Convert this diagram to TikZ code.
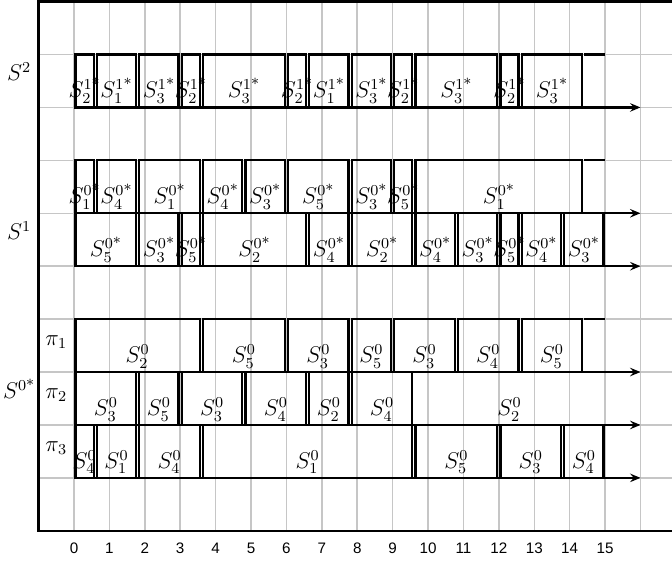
\documentclass[tikz,border=0pt]{standalone}
\usepackage{amsmath}
\usepackage{fontspec}
\setsansfont{Liberation Sans}
\usetikzlibrary{arrows.meta}
\newcommand\st{\text{*}}
\newcommand\ganttrow[3]{%
  \foreach \a/\b/\l [count=\i] in {#3}{%
    \draw[taskbox] (\a+0.045,#2) rectangle (\b-0.045,#2+1);
    \node[lab] (#1-\i) at ({(\a+\b)/2},#2+0.18) {$\l$};
  }}
\begin{document}
\begin{tikzpicture}[x=0.655cm,y=0.979cm,
  gridline/.style={gray!45,line width=0.8pt},
  frame/.style={line width=1.3pt},
  taskbox/.style={line width=1.2pt},
  lab/.style={anchor=base,inner sep=0pt,font=\large},
  timeaxis/.style={line width=1.2pt,-{Stealth[length=5.5pt,width=4.5pt,inset=2pt]}},
  ticklab/.style={font=\sffamily\footnotesize,inner sep=0pt}]
\useasboundingbox (-2.09,-0.586) rectangle (16.89,10.03);
% grid
\foreach \x in {0,...,17} \draw[gridline] (\x,0) -- (\x,10);
\foreach \y in {1,...,9} \draw[gridline] (-1,\y) -- (17,\y);
% frame
\draw[frame] (17,10) -- (-1,10) -- (-1,0) -- (17,0);
% S^2 row
\ganttrow{a}{8}{0/0.6/S_2^{1\st}, 0.6/1.8/S_1^{1\st}, 1.8/3/S_3^{1\st}, 3/3.6/S_2^{1\st}, 3.6/6/S_3^{1\st}, 6/6.6/S_2^{1\st}, 6.6/7.8/S_1^{1\st}, 7.8/9/S_3^{1\st}, 9/9.6/S_2^{1\st}, 9.6/12/S_3^{1\st}, 12/12.6/S_2^{1\st}, 12.6/14.4/S_3^{1\st}}
% S^1 rows
\ganttrow{b}{6}{0/0.6/S_1^{0\st}, 0.6/1.8/S_4^{0\st}, 1.8/3.6/S_1^{0\st}, 3.6/4.8/S_4^{0\st}, 4.8/6/S_3^{0\st}, 6/7.8/S_5^{0\st}, 7.8/9/S_3^{0\st}, 9/9.6/S_5^{0\st}, 9.6/14.4/S_1^{0\st}}
\ganttrow{c}{5}{0/1.8/S_5^{0\st}, 1.8/3/S_3^{0\st}, 3/3.6/S_5^{0\st}, 3.6/6.6/S_2^{0\st}, 6.6/7.8/S_4^{0\st}, 7.8/9.6/S_2^{0\st}, 9.6/10.8/S_4^{0\st}, 10.8/12/S_3^{0\st}, 12/12.6/S_5^{0\st}, 12.6/13.8/S_4^{0\st}, 13.8/15/S_3^{0\st}}
% S^0* rows
\ganttrow{d}{3}{0/3.6/S_2^0, 3.6/6/S_5^0, 6/7.8/S_3^0, 7.8/9/S_5^0, 9/10.8/S_3^0, 10.8/12.6/S_4^0, 12.6/14.4/S_5^0}
\ganttrow{e}{2}{0/1.8/S_3^0, 1.8/3/S_5^0, 3/4.8/S_3^0, 4.8/6.6/S_4^0, 6.6/7.8/S_2^0, 7.8/9.6/S_4^0}
\node[lab] (e-7) at (12.3,2.18) {$S_2^0$};
\ganttrow{f}{1}{0/0.6/S_4^0, 0.6/1.8/S_1^0, 1.8/3.6/S_4^0, 3.6/9.6/S_1^0, 9.6/12/S_5^0, 12/13.8/S_3^0, 13.8/15/S_4^0}
% open top edges up to 15
\foreach \y in {9,7,4} \draw[taskbox] (14.4,\y) -- (15,\y);
% time axes
\foreach \y in {8,6,5,3,2,1} {
  \coordinate (t0-\y) at (0,\y);
  \coordinate (t1-\y) at (16,\y);
  \draw[timeaxis] (t0-\y) -- (t1-\y);
}
% left labels
\node[lab] (s2) at (-1.55,8.5) {$S^2$};
\node[lab] (s1) at (-1.55,5.5) {$S^1$};
\node[lab] (s0) at (-1.55,2.5) {$S^{0\st}$};
\node[lab] (p1) at (-0.5,3.5) {$\pi_1$};
\node[lab] (p2) at (-0.5,2.5) {$\pi_2$};
\node[lab] (p3) at (-0.5,1.5) {$\pi_3$};
% tick labels
\foreach \k in {0,...,15} \node[ticklab] (n\k) at (\k,-0.33) {\k};
\end{tikzpicture}
\end{document}
